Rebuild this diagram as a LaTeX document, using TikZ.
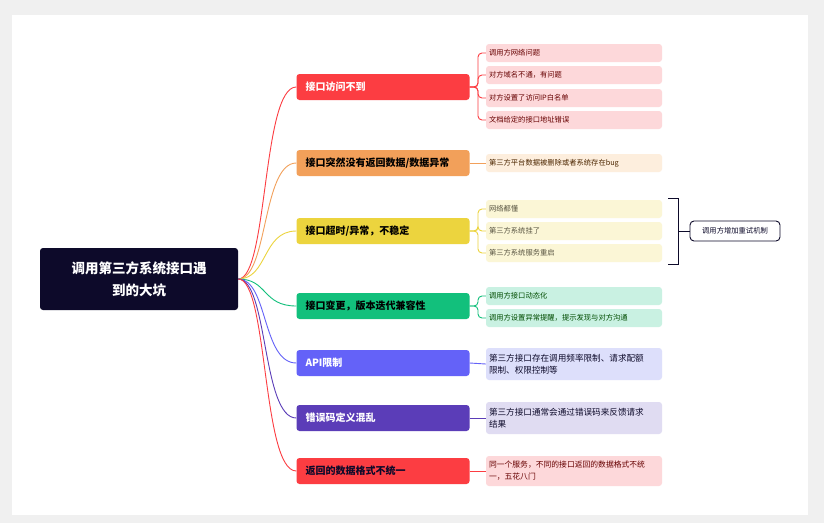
\documentclass[tikz,border=0pt]{standalone}
\usepackage{fontspec}
\setmainfont{Noto Sans CJK SC}
\usetikzlibrary{positioning}
\definecolor{rootc}{HTML}{0D0A2A}
\definecolor{redc}{HTML}{FC3D42}
\definecolor{orac}{HTML}{F2A05A}
\definecolor{yelc}{HTML}{ECD43E}
\definecolor{grec}{HTML}{12C07C}
\definecolor{bluc}{HTML}{6462F8}
\definecolor{purc}{HTML}{5B3DB8}
\definecolor{redl}{HTML}{FDD8DA}
\definecolor{oral}{HTML}{FDEEDD}
\definecolor{yell}{HTML}{FBF6D6}
\definecolor{grel}{HTML}{C9F1E2}
\definecolor{blul}{HTML}{DDDFFB}
\definecolor{purl}{HTML}{E0DCF2}
\tikzset{
  topic/.style={rounded corners=3pt, minimum width=172pt, minimum height=26pt,
    text width=155pt, align=left, font=\bfseries\fontsize{10}{12}\selectfont, inner xsep=9pt},
  leaf/.style={rounded corners=3pt, minimum width=176pt, minimum height=18pt,
    text width=170pt, align=left, font=\fontsize{7.3}{9}\selectfont, inner xsep=3pt},
  bigleaf/.style={leaf, minimum height=32pt, font=\fontsize{8.6}{12.5}\selectfont},
  link/.style={line width=0.9pt, rounded corners=4pt}
}
\begin{document}
\begin{tikzpicture}[x=1pt,y=-1pt]
\fill[gray!12] (0,0) rectangle (824,523);
\fill[white] (12,15) rectangle (808,515);
% root
\node[fill=rootc, text=white, rounded corners=3pt, minimum width=198pt, minimum height=62pt,
  text width=184pt, align=center, font=\bfseries\fontsize{13.5}{22}\selectfont] (root) at (139,279)
  {调用第三方系统接口遇\\到的大坑};
% topics
\node[topic, fill=redc, text=white] (t1) at (383,87) {接口访问不到};
\node[topic, fill=orac] (t2) at (383,163) {接口突然没有返回数据/数据异常};
\node[topic, fill=yelc] (t3) at (383,231) {接口超时/异常，不稳定};
\node[topic, fill=grec] (t4) at (383,306) {接口变更，版本迭代兼容性};
\node[topic, fill=bluc, text=white] (t5) at (383,363) {API限制};
\node[topic, fill=purc, text=white] (t6) at (383,418) {错误码定义混乱};
\node[topic, fill=redc, text=rootc] (t7) at (383,471) {返回的数据格式不统一};
% leaves
\node[leaf, fill=redl, text=red!40!black] (l11) at (574,53) {调用方网络问题};
\node[leaf, fill=redl, text=red!40!black] (l12) at (574,75) {对方域名不通，有问题};
\node[leaf, fill=redl, text=red!40!black] (l13) at (574,98) {对方设置了访问IP白名单};
\node[leaf, fill=redl, text=red!40!black] (l14) at (574,120) {文档给定的接口地址错误};
\node[leaf, fill=oral, text=orange!30!black] (l21) at (574,163) {第三方平台数据被删除或者系统存在bug};
\node[leaf, fill=yell, text=yellow!25!black] (l31) at (574,209) {网络都懂};
\node[leaf, fill=yell, text=yellow!25!black] (l32) at (574,231) {第三方系统挂了};
\node[leaf, fill=yell, text=yellow!25!black] (l33) at (574,253) {第三方系统服务重启};
\node[leaf, fill=grel, text=green!30!black] (l41) at (574,296) {调用方接口动态化};
\node[leaf, fill=grel, text=green!30!black] (l42) at (574,318) {调用方设置异常提醒，提示发现与对方沟通};
\node[bigleaf, fill=blul, text=rootc] (l51) at (574,364) {第三方接口存在调用频率限制、请求配额\\限制、权限控制等};
\node[bigleaf, fill=purl, text=rootc] (l61) at (574,418) {第三方接口通常会通过错误码来反馈请求\\结果};
\node[leaf, fill=redl, text=red!40!black, minimum height=30pt, font=\fontsize{7.8}{12}\selectfont] (l71) at (574,471) {同一个服务，不同的接口返回的数据格式不统\\一，五花八门};
% summary
\node[draw=rootc, line width=0.9pt, rounded corners=4pt, minimum width=90pt, minimum height=20pt,
  font=\fontsize{7.3}{9}\selectfont, text=rootc] (sum) at (735,231) {调用方增加重试机制};
\draw[rootc, line width=0.9pt] (668,198) -- (678,198) -- (678,264) -- (668,264);
\draw[rootc, line width=0.9pt] (678,231) -- (sum.west);
% root to topics
\foreach \t/\c in {t1/redc,t2/orac,t3/yelc,t4/grec,t5/bluc,t6/purc,t7/redc}
  \draw[\c, line width=0.9pt] (root.east) .. controls (268,279) and (262,0|-\t.west) .. (\t.west);
% topics to leaves
\foreach \t/\l/\c in {t1/l11/redc,t1/l12/redc,t1/l13/redc,t1/l14/redc,
  t3/l31/yelc,t3/l32/yelc,t3/l33/yelc,t4/l41/grec,t4/l42/grec}
  \draw[\c, link] (\t.east) -- (478,0|-\t.east) -- (478,0|-\l.west) -- (\l.west);
\foreach \t/\l/\c in {t2/l21/orac,t5/l51/bluc,t6/l61/purc,t7/l71/redc}
  \draw[\c, line width=0.9pt] (\t.east) -- (\l.west);
\end{tikzpicture}
\end{document}
